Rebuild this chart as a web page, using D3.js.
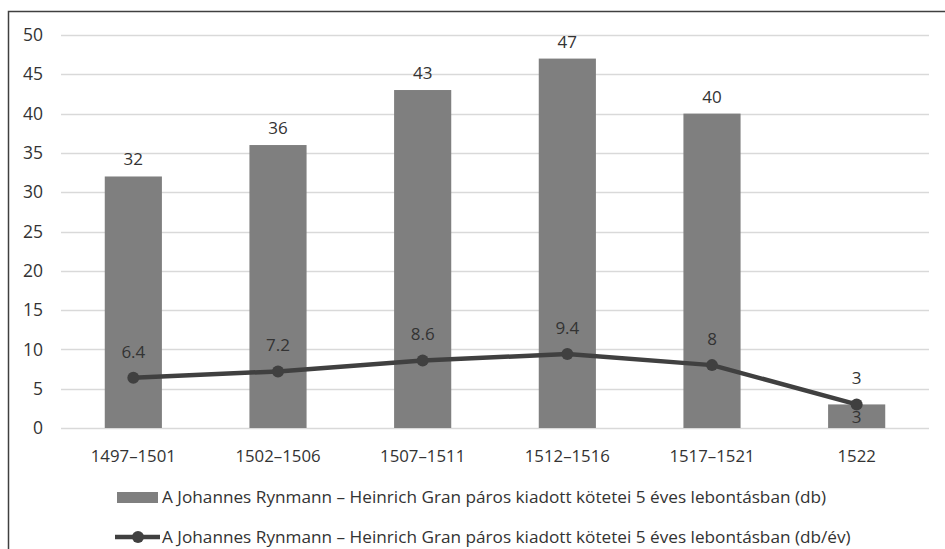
<!DOCTYPE html>
<html>
<head>
<meta charset="utf-8">
<script src="https://cdn.jsdelivr.net/npm/d3@7"></script>
<style>
  body { margin: 0; background: #fff; }
  svg text { font-family: "Open Sans", sans-serif; fill: #333; }
</style>
</head>
<body>
<div id="chart"></div>
<script>
// data
var categories = ["1497–1501", "1502–1506", "1507–1511", "1512–1516", "1517–1521", "1522"];
var volumes = [32, 36, 43, 47, 40, 3];          // db
var perYear = [6.4, 7.2, 8.6, 9.4, 8, 3];       // db/év
var yTicks = [0, 5, 10, 15, 20, 25, 30, 35, 40, 45, 50];
var legendLabels = [
    "A Johannes Rynmann – Heinrich Gran páros kiadott kötetei 5 éves lebontásban (db)",
    "A Johannes Rynmann – Heinrich Gran páros kiadott kötetei 5 éves lebontásban (db/év)"
];

var width = 945, height = 549;
var margin = { top: 35, right: 16, bottom: 121, left: 61 };
var textColor = "#333";

var svg = d3.select("#chart").append("svg")
    .attr("width", width)
    .attr("height", height);

// outer frame (runs off right and bottom edge like the original)
svg.append("rect")
    .attr("x", 8.5).attr("y", 11.5)
    .attr("width", 960).attr("height", 560)
    .attr("fill", "none")
    .attr("stroke", "#404040")
    .attr("stroke-width", 1.5);

var x = d3.scaleBand()
    .domain(categories)
    .range([margin.left, width - margin.right])
    .padding(0);

var y = d3.scaleLinear()
    .domain([0, 50])
    .range([height - margin.bottom, margin.top]);

var barW = x.bandwidth() * 0.395;

// gridlines
svg.append("g").selectAll("line")
    .data(yTicks)
    .enter().append("line")
    .attr("x1", margin.left)
    .attr("x2", width - margin.right)
    .attr("y1", function(d) { return Math.round(y(d)) + 0.5; })
    .attr("y2", function(d) { return Math.round(y(d)) + 0.5; })
    .attr("stroke", "#d9d9d9")
    .attr("stroke-width", 1.5);

// y axis labels
var yAxis = svg.append("g")
    .attr("transform", "translate(" + margin.left + ",0)")
    .call(d3.axisLeft(y).tickValues(yTicks).tickSize(0).tickPadding(18));
yAxis.select(".domain").remove();
yAxis.selectAll("text")
    .attr("font-size", 17.5)
    .attr("font-family", "Open Sans, sans-serif")
    .attr("fill", textColor);

// x axis labels
var xAxis = svg.append("g")
    .attr("transform", "translate(0," + y(0) + ")")
    .call(d3.axisBottom(x).tickSize(0).tickPadding(22));
xAxis.select(".domain").remove();
xAxis.selectAll("text")
    .attr("font-size", 16.8)
    .attr("font-family", "Open Sans, sans-serif")
    .attr("fill", textColor);

// bars
svg.append("g").selectAll("rect")
    .data(volumes)
    .enter().append("rect")
    .attr("x", function(d, i) { return x(categories[i]) + x.bandwidth() / 2 - barW / 2; })
    .attr("y", function(d) { return y(d); })
    .attr("width", barW)
    .attr("height", function(d) { return y(0) - y(d); })
    .attr("fill", "#7f7f7f");

// bar labels (the small last one sits inside, under the line label)
svg.append("g").selectAll("text")
    .data(volumes)
    .enter().append("text")
    .attr("x", function(d, i) { return x(categories[i]) + x.bandwidth() / 2; })
    .attr("y", function(d, i) {
        return Math.abs(d - perYear[i]) < 2 ? y(d) + 19 : y(d) - 11;
    })
    .attr("text-anchor", "middle")
    .attr("font-size", 17)
    .text(function(d) { return d; });

// line
var line = d3.line()
    .x(function(d, i) { return x(categories[i]) + x.bandwidth() / 2; })
    .y(function(d) { return y(d); });

svg.append("path")
    .datum(perYear)
    .attr("d", line)
    .attr("fill", "none")
    .attr("stroke", "#404040")
    .attr("stroke-width", 4.5)
    .attr("stroke-linejoin", "round");

svg.append("g").selectAll("circle")
    .data(perYear)
    .enter().append("circle")
    .attr("cx", function(d, i) { return x(categories[i]) + x.bandwidth() / 2; })
    .attr("cy", function(d) { return y(d); })
    .attr("r", 6)
    .attr("fill", "#404040");

svg.append("g").selectAll("text")
    .data(perYear)
    .enter().append("text")
    .attr("x", function(d, i) { return x(categories[i]) + x.bandwidth() / 2; })
    .attr("y", function(d) { return y(d) - 20; })
    .attr("text-anchor", "middle")
    .attr("font-size", 17)
    .text(function(d) { return d; });

// legend
var legend = svg.append("g");
legend.append("rect")
    .attr("x", 117).attr("y", 492)
    .attr("width", 41).attr("height", 11)
    .attr("fill", "#7f7f7f");
legend.append("text")
    .attr("x", 162).attr("y", 503)
    .attr("font-size", 17.2)
    .text(legendLabels[0]);

legend.append("line")
    .attr("x1", 115).attr("x2", 160)
    .attr("y1", 537).attr("y2", 537)
    .attr("stroke", "#404040")
    .attr("stroke-width", 4.5);
legend.append("circle")
    .attr("cx", 138).attr("cy", 537).attr("r", 6)
    .attr("fill", "#404040");
legend.append("text")
    .attr("x", 162).attr("y", 543)
    .attr("font-size", 17.2)
    .text(legendLabels[1]);
</script>
</body>
</html>
